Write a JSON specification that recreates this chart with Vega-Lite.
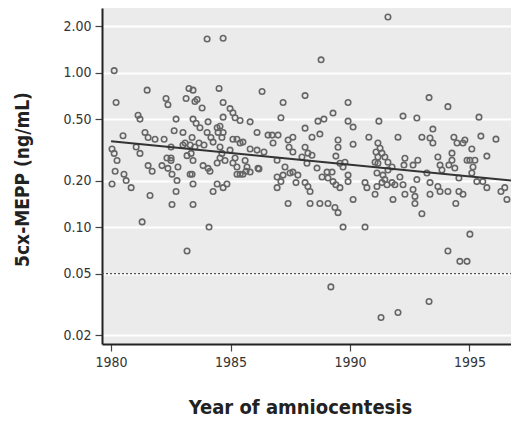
{
  "$schema": "https://vega.github.io/schema/vega-lite/v6.json",
  "width": 409,
  "height": 336,
  "autosize": {"type": "none"},
  "padding": {"left": 102, "top": 8, "right": 0, "bottom": 78},
  "background": "white",
  "view": {"fill": "#ebebeb", "stroke": null},
  "config": {
    "font": "DejaVu Sans Condensed, Liberation Sans, sans-serif",
    "axis": {"labelFont": "DejaVu Sans Condensed, Liberation Sans, sans-serif", "titleFont": "DejaVu Sans Condensed, Liberation Sans, sans-serif"}
  },
  "datasets": {
    "pts": [
      {"year":1980.13,"mepp":1.03},{"year":1980.21,"mepp":0.64},{"year":1981.51,"mepp":0.77},{"year":1981.13,"mepp":0.53},
      {"year":1981.21,"mepp":0.50},{"year":1980.50,"mepp":0.39},{"year":1980.04,"mepp":0.32},{"year":1980.13,"mepp":0.30},
      {"year":1980.25,"mepp":0.27},{"year":1981.05,"mepp":0.33},{"year":1981.21,"mepp":0.30},{"year":1981.42,"mepp":0.41},
      {"year":1981.55,"mepp":0.38},{"year":1981.84,"mepp":0.37},{"year":1982.22,"mepp":0.37},{"year":1980.17,"mepp":0.23},
      {"year":1980.04,"mepp":0.19},{"year":1980.54,"mepp":0.22},{"year":1980.63,"mepp":0.20},{"year":1980.84,"mepp":0.18},
      {"year":1981.55,"mepp":0.25},{"year":1981.72,"mepp":0.23},{"year":1981.63,"mepp":0.16},{"year":1982.13,"mepp":0.25},
      {"year":1982.34,"mepp":0.28},{"year":1982.30,"mepp":0.68},{"year":1982.38,"mepp":0.62},{"year":1982.72,"mepp":0.50},
      {"year":1982.64,"mepp":0.42},{"year":1983.01,"mepp":0.41},{"year":1982.51,"mepp":0.33},{"year":1982.51,"mepp":0.28},
      {"year":1982.51,"mepp":0.27},{"year":1982.38,"mepp":0.24},{"year":1982.55,"mepp":0.22},{"year":1982.76,"mepp":0.20},
      {"year":1982.72,"mepp":0.17},{"year":1982.55,"mepp":0.14},{"year":1982.80,"mepp":0.245},{"year":1983.01,"mepp":0.34},
      {"year":1983.10,"mepp":0.35},{"year":1983.14,"mepp":0.68},{"year":1983.26,"mepp":0.79},{"year":1983.43,"mepp":0.77},
      {"year":1983.51,"mepp":0.65},{"year":1983.81,"mepp":0.59},{"year":1983.60,"mepp":0.67},{"year":1983.43,"mepp":0.50},
      {"year":1983.56,"mepp":0.47},{"year":1983.72,"mepp":0.44},{"year":1983.39,"mepp":0.38},{"year":1983.31,"mepp":0.34},
      {"year":1983.51,"mepp":0.33},{"year":1983.68,"mepp":0.35},{"year":1983.89,"mepp":0.34},{"year":1983.18,"mepp":0.29},
      {"year":1983.35,"mepp":0.30},{"year":1983.43,"mepp":0.27},{"year":1983.31,"mepp":0.22},{"year":1983.39,"mepp":0.22},
      {"year":1983.43,"mepp":0.19},{"year":1983.43,"mepp":0.14},{"year":1983.85,"mepp":0.25},{"year":1984.06,"mepp":0.24},
      {"year":1984.14,"mepp":0.23},{"year":1984.02,"mepp":0.41},{"year":1984.06,"mepp":0.48},{"year":1984.02,"mepp":1.65},
      {"year":1984.69,"mepp":1.67},{"year":1984.52,"mepp":0.79},{"year":1984.69,"mepp":0.64},{"year":1984.98,"mepp":0.585},
      {"year":1985.10,"mepp":0.55},{"year":1985.19,"mepp":0.51},{"year":1985.40,"mepp":0.49},{"year":1984.69,"mepp":0.515},
      {"year":1984.56,"mepp":0.45},{"year":1984.44,"mepp":0.44},{"year":1984.18,"mepp":0.38},{"year":1984.27,"mepp":0.355},
      {"year":1984.48,"mepp":0.41},{"year":1984.64,"mepp":0.38},{"year":1984.69,"mepp":0.41},{"year":1984.56,"mepp":0.33},
      {"year":1984.64,"mepp":0.30},{"year":1984.44,"mepp":0.26},{"year":1984.56,"mepp":0.28},{"year":1984.77,"mepp":0.27},
      {"year":1984.98,"mepp":0.315},{"year":1985.10,"mepp":0.37},{"year":1985.27,"mepp":0.37},{"year":1985.40,"mepp":0.35},
      {"year":1985.52,"mepp":0.355},{"year":1985.19,"mepp":0.28},{"year":1985.10,"mepp":0.26},{"year":1985.27,"mepp":0.245},
      {"year":1985.61,"mepp":0.27},{"year":1985.69,"mepp":0.245},{"year":1985.52,"mepp":0.22},{"year":1985.27,"mepp":0.22},
      {"year":1985.40,"mepp":0.22},{"year":1985.65,"mepp":0.23},{"year":1984.44,"mepp":0.19},{"year":1984.69,"mepp":0.18},
      {"year":1984.85,"mepp":0.19},{"year":1984.27,"mepp":0.17},{"year":1985.82,"mepp":0.32},{"year":1986.11,"mepp":0.41},
      {"year":1986.15,"mepp":0.24},{"year":1986.11,"mepp":0.315},
      {"year":1991.59,"mepp":2.29},{"year":1988.79,"mepp":1.21},{"year":1986.32,"mepp":0.755},{"year":1987.20,"mepp":0.64},
      {"year":1988.12,"mepp":0.71},{"year":1989.92,"mepp":0.64},{"year":1987.11,"mepp":0.51},{"year":1985.82,"mepp":0.48},
      {"year":1986.57,"mepp":0.394},{"year":1986.74,"mepp":0.394},{"year":1986.99,"mepp":0.394},{"year":1986.78,"mepp":0.35},
      {"year":1986.40,"mepp":0.306},{"year":1985.82,"mepp":0.227},{"year":1986.19,"mepp":0.238},{"year":1986.95,"mepp":0.271},
      {"year":1987.28,"mepp":0.245},{"year":1987.41,"mepp":0.366},{"year":1987.61,"mepp":0.382},{"year":1987.45,"mepp":0.329},
      {"year":1987.61,"mepp":0.306},{"year":1987.20,"mepp":0.217},{"year":1986.95,"mepp":0.211},{"year":1987.11,"mepp":0.197},
      {"year":1986.95,"mepp":0.180},{"year":1987.49,"mepp":0.224},{"year":1987.61,"mepp":0.227},{"year":1987.82,"mepp":0.217},
      {"year":1987.74,"mepp":0.194},{"year":1988.12,"mepp":0.194},{"year":1988.24,"mepp":0.183},{"year":1988.33,"mepp":0.170},
      {"year":1987.41,"mepp":0.142},{"year":1988.12,"mepp":0.437},{"year":1988.12,"mepp":0.329},{"year":1987.99,"mepp":0.284},
      {"year":1988.24,"mepp":0.301},{"year":1988.41,"mepp":0.382},{"year":1988.41,"mepp":0.292},{"year":1988.20,"mepp":0.259},
      {"year":1988.66,"mepp":0.485},{"year":1988.91,"mepp":0.50},{"year":1989.29,"mepp":0.547},{"year":1988.74,"mepp":0.40},
      {"year":1988.62,"mepp":0.241},{"year":1988.83,"mepp":0.211},{"year":1989.04,"mepp":0.227},{"year":1989.25,"mepp":0.227},
      {"year":1989.08,"mepp":0.208},{"year":1989.29,"mepp":0.197},{"year":1989.41,"mepp":0.188},{"year":1989.58,"mepp":0.180},
      {"year":1988.33,"mepp":0.142},{"year":1988.74,"mepp":0.142},{"year":1989.08,"mepp":0.142},{"year":1989.37,"mepp":0.134},
      {"year":1989.50,"mepp":0.124},{"year":1989.50,"mepp":0.366},{"year":1989.50,"mepp":0.329},{"year":1989.41,"mepp":0.288},
      {"year":1989.58,"mepp":0.259},{"year":1989.71,"mepp":0.245},{"year":1989.79,"mepp":0.263},{"year":1989.92,"mepp":0.485},
      {"year":1990.13,"mepp":0.444},{"year":1990.13,"mepp":0.344},{"year":1989.92,"mepp":0.197},{"year":1989.92,"mepp":0.217},
      {"year":1990.13,"mepp":0.151},{"year":1990.63,"mepp":0.194},{"year":1990.71,"mepp":0.180},{"year":1990.79,"mepp":0.382},
      {"year":1991.13,"mepp":0.183},{"year":1991.05,"mepp":0.163},{"year":1991.21,"mepp":0.485},{"year":1991.17,"mepp":0.35},
      {"year":1991.26,"mepp":0.324},{"year":1991.09,"mepp":0.306},{"year":1991.17,"mepp":0.284},{"year":1991.34,"mepp":0.301},
      {"year":1991.05,"mepp":0.263},{"year":1991.17,"mepp":0.259},{"year":1991.46,"mepp":0.284},{"year":1991.59,"mepp":0.263},
      {"year":1991.13,"mepp":0.224},{"year":1991.38,"mepp":0.217},{"year":1991.59,"mepp":0.234},{"year":1991.76,"mepp":0.245},
      {"year":1991.34,"mepp":0.194},{"year":1991.55,"mepp":0.188},{"year":1991.76,"mepp":0.194},{"year":1991.88,"mepp":0.188},
      {"year":1991.46,"mepp":0.203},{"year":1991.80,"mepp":0.151},{"year":1992.01,"mepp":0.382},{"year":1992.22,"mepp":0.523},
      {"year":1992.30,"mepp":0.279},{"year":1992.26,"mepp":0.252},{"year":1992.09,"mepp":0.211},{"year":1992.22,"mepp":0.188},
      {"year":1992.30,"mepp":0.163},{"year":1992.64,"mepp":0.252},{"year":1992.64,"mepp":0.175},{"year":1992.80,"mepp":0.508},
      {"year":1992.84,"mepp":0.271},{"year":1992.80,"mepp":0.203},{"year":1992.72,"mepp":0.158},{"year":1992.72,"mepp":0.142},
      {"year":1993.01,"mepp":0.382},{"year":1993.01,"mepp":0.122},{"year":1993.31,"mepp":0.689},{"year":1993.47,"mepp":0.431},
      {"year":1993.35,"mepp":0.377},{"year":1993.47,"mepp":0.35},{"year":1993.35,"mepp":0.194},{"year":1993.35,"mepp":0.163},
      {"year":1993.22,"mepp":0.224},{"year":1993.68,"mepp":0.284},{"year":1993.77,"mepp":0.252},{"year":1993.85,"mepp":0.234},
      {"year":1993.68,"mepp":0.183},{"year":1993.77,"mepp":0.170},{"year":1994.10,"mepp":0.170},{"year":1994.10,"mepp":0.602},
      {"year":1994.27,"mepp":0.301},{"year":1994.35,"mepp":0.382},{"year":1994.48,"mepp":0.35},{"year":1994.73,"mepp":0.35},
      {"year":1994.81,"mepp":0.366},{"year":1994.39,"mepp":0.241},{"year":1994.27,"mepp":0.271},{"year":1994.43,"mepp":0.142},
      {"year":1994.56,"mepp":0.170},{"year":1994.73,"mepp":0.163},{"year":1994.56,"mepp":0.208},{"year":1995.10,"mepp":0.32},
      {"year":1995.02,"mepp":0.271},{"year":1995.15,"mepp":0.245},{"year":1995.23,"mepp":0.271},{"year":1995.10,"mepp":0.224},
      {"year":1995.40,"mepp":0.515},{"year":1995.48,"mepp":0.388},{"year":1995.31,"mepp":0.197},{"year":1995.56,"mepp":0.197},
      {"year":1995.73,"mepp":0.288},{"year":1995.73,"mepp":0.180},{"year":1996.11,"mepp":0.371},{"year":1996.32,"mepp":0.170},
      {"year":1996.48,"mepp":0.180},{"year":1996.57,"mepp":0.151},{"year":1994.14,"mepp":0.252},{"year":1994.90,"mepp":0.271},
      {"year":1981.30,"mepp":0.108},{"year":1983.18,"mepp":0.070},{"year":1984.10,"mepp":0.100},{"year":1989.71,"mepp":0.100},
      {"year":1990.63,"mepp":0.100},{"year":1989.20,"mepp":0.041},{"year":1991.30,"mepp":0.026},{"year":1992.01,"mepp":0.028},
      {"year":1993.31,"mepp":0.033},{"year":1995.02,"mepp":0.090},{"year":1994.10,"mepp":0.070},{"year":1994.60,"mepp":0.060},
      {"year":1994.90,"mepp":0.060}
    ],
    "fit": [
      {"year": 1980.0, "mepp": 0.36},
      {"year": 1996.74, "mepp": 0.20}
    ],
    "ref": [
      {"year": 1979.62, "mepp": 0.05},
      {"year": 1996.74, "mepp": 0.05}
    ]
  },
  "encoding": {
    "x": {
      "field": "year", "type": "quantitative",
      "scale": {"domain": [1979.62, 1996.74], "nice": false, "zero": false},
      "axis": {
        "title": "Year of amniocentesis",
        "values": [1980, 1985, 1990, 1995],
        "format": "d",
        "grid": false,
        "domainColor": "#222222", "domainWidth": 2,
        "tickColor": "#444444", "tickSize": 7, "tickWidth": 1.2,
        "labelFontSize": 14, "labelColor": "#333333", "labelPadding": 4,
        "titleFontSize": 20, "titleFontWeight": "bold", "titleColor": "#222222",
        "titleX": 198, "titleY": 63, "titleBaseline": "middle", "titleAlign": "center"
      }
    },
    "y": {
      "field": "mepp", "type": "quantitative",
      "scale": {"type": "log", "domain": [0.0175, 2.62], "nice": false},
      "axis": {
        "title": "5cx-MEPP (ng/mL)",
        "values": [0.02, 0.05, 0.1, 0.2, 0.5, 1, 2],
        "format": ".2f",
        "grid": true, "gridColor": "#ffffff", "gridWidth": 2,
        "domainColor": "#222222", "domainWidth": 2,
        "tickColor": "#444444", "tickSize": 7, "tickWidth": 1.2,
        "labelFontSize": 14, "labelColor": "#333333", "labelPadding": 4,
        "titleFontSize": 19, "titleFontWeight": "bold", "titleColor": "#222222",
        "titleX": -80, "titleY": 171, "titleAngle": -90, "titleBaseline": "middle", "titleAlign": "center"
      }
    }
  },
  "layer": [
    {
      "data": {"name": "ref"},
      "mark": {"type": "line", "color": "#555555", "strokeWidth": 1.3, "strokeDash": [2, 2]},
      "encoding": {}
    },
    {
      "data": {"name": "pts"},
      "mark": {"type": "point", "shape": "circle", "filled": false, "size": 30, "stroke": "#666666", "strokeWidth": 1.6, "opacity": 1}
    },
    {
      "data": {"name": "fit"},
      "mark": {"type": "line", "color": "#333333", "strokeWidth": 2},
      "encoding": {}
    }
  ]
}
